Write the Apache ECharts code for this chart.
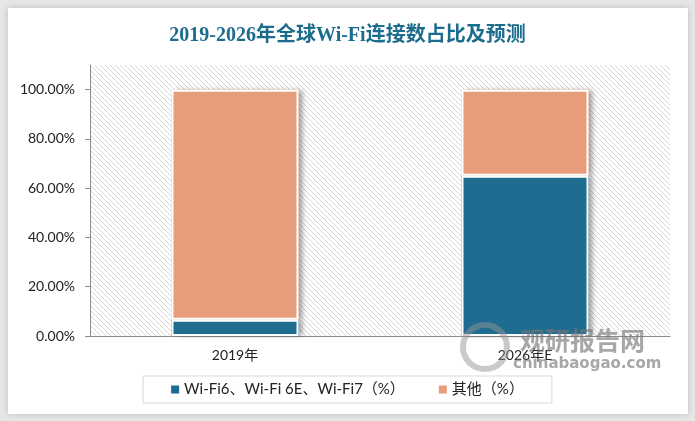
<!DOCTYPE html>
<html>
<head>
<meta charset="utf-8">
<script src="https://cdn.jsdelivr.net/npm/echarts@6/dist/echarts.min.js"></script>
<style>
  html, body { margin: 0; padding: 0; background: #e6e6e6; }
  #card { position: absolute; left: 8px; top: 8px; width: 680px; height: 406px; background: #fff;
          box-shadow: 0 0 6px rgba(0,0,0,0.18); }
  #main { position: absolute; left: 0; top: 0; width: 695px; height: 421px; }
</style>
</head>
<body>
<div id="card"></div>
<div id="main"></div>
<script>
// 数据
var categories = ['2019年', '2026年E'];
var wifiNew = [0.066, 0.65];   // Wi-Fi6、Wi-Fi 6E、Wi-Fi7
var others = [0.934, 0.35];    // 其他
var yTicks = [0, 0.2, 0.4, 0.6, 0.8, 1.0];
var seriesNames = ['Wi-Fi6、Wi-Fi 6E、Wi-Fi7（%）', '其他（%）'];
var colors = ['#1e6c8f', '#e79d7c'];

// 斜线底纹
function hatch() {
  var c = document.createElement('canvas');
  c.width = 5; c.height = 5;
  var ctx = c.getContext('2d');
  ctx.fillStyle = '#fff';
  ctx.fillRect(0, 0, 5, 5);
  ctx.fillStyle = '#d6d6d6';
  for (var i = 0; i < 5; i++) {
    ctx.fillRect(i, i, 1, 1);
  }
  return c;
}

var chart = echarts.init(document.getElementById('main'));

// 底层带阴影的柱子，上层是白边柱子
function shadowBar(name, data, color) {
  return {
    name: name, type: 'bar', stack: 'shadow', barWidth: 127, silent: true,
    data: data,
    itemStyle: { color: color, shadowColor: 'rgba(0,0,0,0.35)', shadowBlur: 5, shadowOffsetX: 4 }
  };
}
function mainBar(name, data, color) {
  return {
    name: name, type: 'bar', stack: 'total', barWidth: 127, barGap: '-100%',
    data: data,
    itemStyle: { color: color, borderColor: '#fff', borderWidth: 2 }
  };
}

var option = {
  animation: false,
  color: colors,
  title: {
    text: '2019-2026年全球Wi-Fi连接数占比及预测',
    left: 'center',
    top: 21,
    textStyle: {
      color: '#1c6c8e',
      fontSize: 20,
      fontWeight: 'bold',
      fontFamily: '"Liberation Serif", "Noto Sans CJK SC", serif'
    }
  },
  legend: {
    data: seriesNames,
    left: 'center',
    top: 376,
    icon: 'rect',
    itemWidth: 8,
    itemHeight: 8,
    itemGap: 34,
    padding: [6, 28, 6, 28],
    borderColor: '#d9d9d9',
    borderWidth: 1,
    textStyle: {
      color: '#222',
      fontSize: 15,
      fontFamily: 'Lato, "Noto Sans CJK SC", sans-serif'
    }
  },
  grid: {
    left: 90,
    right: 25,
    top: 65,
    bottom: 85,
    show: true,
    borderWidth: 0,
    backgroundColor: { image: hatch(), repeat: 'repeat' }
  },
  xAxis: {
    type: 'category',
    data: categories,
    axisLine: { lineStyle: { color: '#8c8c8c' } },
    axisTick: { length: 5, lineStyle: { color: '#8c8c8c' } },
    axisLabel: {
      margin: 12,
      color: '#222',
      fontSize: 14,
      fontFamily: 'Lato, "Noto Sans CJK SC", sans-serif'
    }
  },
  yAxis: {
    type: 'value',
    min: 0,
    max: 1.1,
    interval: 0.2,
    splitLine: { show: false },
    axisLine: { show: true, lineStyle: { color: '#8c8c8c' } },
    axisTick: { show: true, length: 5, customValues: yTicks, lineStyle: { color: '#8c8c8c' } },
    axisLabel: {
      customValues: yTicks,
      margin: 15,
      color: '#222',
      fontSize: 14,
      fontFamily: 'Lato, sans-serif',
      formatter: function (v) { return (v * 100).toFixed(2) + '%'; }
    }
  },
  series: [
    shadowBar(seriesNames[0], wifiNew, colors[0]),
    shadowBar(seriesNames[1], others, colors[1]),
    mainBar(seriesNames[0], wifiNew, colors[0]),
    mainBar(seriesNames[1], others, colors[1])
  ],
  graphic: [
    {
      type: 'text', left: 520, top: 328, z: 100,
      style: { text: '观研报告网', fill: 'rgba(120,120,120,0.65)', font: 'bold 25px "Noto Sans CJK SC"' }
    },
    {
      type: 'text', left: 513, top: 357, z: 100,
      style: { text: 'chinabaogao.com', fill: 'rgba(120,120,120,0.65)', font: 'bold 15px "DejaVu Sans"' }
    },
    {
      type: 'circle', left: 460, top: 322, z: 100,
      shape: { r: 22 },
      style: { fill: 'none', stroke: 'rgba(150,150,150,0.5)', lineWidth: 6 }
    }
  ]
};
chart.setOption(option);
</script>
</body>
</html>
